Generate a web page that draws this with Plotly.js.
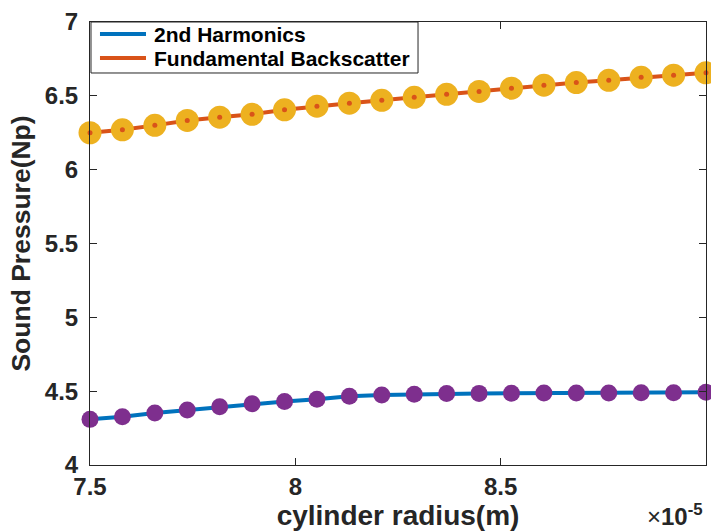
<!DOCTYPE html>
<html>
<head>
<meta charset="utf-8">
<script src="https://cdn.plot.ly/plotly-3.0.1.min.js"></script>
<style>html,body{margin:0;padding:0;background:#fff;}#chart{width:711px;height:531px;}</style>
</head>
<body>
<div id="chart"></div>
<script>
// cylinder radius in units of 1e-5 m
const radius = [7.5000, 7.5789, 7.6579, 7.7368, 7.8158, 7.8947, 7.9737, 8.0526, 8.1316, 8.2105,
                8.2895, 8.3684, 8.4474, 8.5263, 8.6053, 8.6842, 8.7632, 8.8421, 8.9211, 9.0000];
const harmonics2nd = [4.309, 4.327, 4.352, 4.372, 4.395, 4.415, 4.430, 4.445, 4.465, 4.474,
                      4.479, 4.484, 4.485, 4.486, 4.487, 4.487, 4.488, 4.489, 4.490, 4.493];
const fundamentalBackscatter = [6.250, 6.270, 6.300, 6.333, 6.355, 6.375, 6.405, 6.430, 6.450, 6.470,
                                6.490, 6.510, 6.530, 6.552, 6.572, 6.590, 6.605, 6.625, 6.640, 6.656];
const seriesNames = ['2nd Harmonics', 'Fundamental Backscatter'];
const seriesColors = ['#0072BD', '#D95319'];
const xTickVals = [7.5, 8, 8.5, 9];
const xTickText = ['7.5', '8', '8.5', '9'];
const yTickVals = [4, 4.5, 5, 5.5, 6, 6.5, 7];
const yTickText = ['4', '4.5', '5', '5.5', '6', '6.5', '7'];

const FONT = '"Liberation Sans", Arial, Helvetica, sans-serif';
const AX = '#262626';
const bold = s => '<b>' + s + '</b>';

const traces = [
  {x: radius, y: harmonics2nd, name: seriesNames[0], mode: 'lines', showlegend: false,
   line: {color: seriesColors[0], width: 4}, cliponaxis: false},
  {x: radius, y: fundamentalBackscatter, name: seriesNames[1], mode: 'lines', showlegend: false,
   line: {color: seriesColors[1], width: 4}, cliponaxis: false},
  {x: radius, y: harmonics2nd, mode: 'markers', showlegend: false, hoverinfo: 'skip',
   marker: {color: '#7E2F8E', size: 17, symbol: 'circle', line: {width: 0}}, cliponaxis: false},
  {x: radius, y: fundamentalBackscatter, mode: 'markers', showlegend: false, hoverinfo: 'skip',
   marker: {color: '#EDB120', size: 23, symbol: 'circle', line: {width: 0}}, cliponaxis: false},
  {x: radius, y: fundamentalBackscatter, mode: 'markers', showlegend: false, hoverinfo: 'skip',
   marker: {color: '#D95319', size: 5, symbol: 'circle', line: {width: 0}}, cliponaxis: false}
];

const tickFont = {family: FONT, size: 24, color: AX, weight: 700};
const axisCommon = {
  showgrid: false, zeroline: false, showline: true, linecolor: AX, linewidth: 1,
  mirror: 'ticks', ticks: 'inside', ticklen: 7, tickwidth: 1, tickcolor: AX,
  tickfont: tickFont
};

// legend drawn in paper coordinates (plot area: 616 x 443 px)
const legendRows = [0.9729, 0.9187];
const shapes = [
  {type: 'rect', xref: 'paper', yref: 'paper', x0: 0.0016, x1: 0.5325, y0: 0.8849, y1: 1,
   line: {color: AX, width: 1}, fillcolor: '#fff', layer: 'above'}
];
const annotations = [];
seriesNames.forEach((nm, i) => {
  shapes.push({type: 'line', xref: 'paper', yref: 'paper', x0: 0.0162, x1: 0.0909,
               y0: legendRows[i], y1: legendRows[i], line: {color: seriesColors[i], width: 4},
               layer: 'above'});
  annotations.push({xref: 'paper', yref: 'paper', x: 0.1, y: legendRows[i],
                    xanchor: 'left', yanchor: 'middle', showarrow: false, text: nm,
                    font: {family: FONT, size: 21, color: '#000', weight: 700}});
});
annotations.push({
  xref: 'paper', yref: 'paper', x: 0.999, y: -0.112, xanchor: 'right', yanchor: 'middle',
  showarrow: false,
  text: '×<b>10</b><sup><b>-5</b></sup>',
  font: {family: FONT, size: 24, color: AX}
});

const layout = {
  width: 711, height: 531,
  margin: {l: 90, r: 5, t: 22, b: 66},
  paper_bgcolor: '#fff', plot_bgcolor: '#fff',
  font: {family: FONT, color: AX},
  showlegend: false,
  xaxis: Object.assign({}, axisCommon, {
    range: [7.5, 9], tickvals: xTickVals, ticktext: xTickText.map(bold), ticklabelstandoff: 0,
    title: {text: 'cylinder radius(m)', standoff: 0,
            font: {family: FONT, size: 28, color: AX, weight: 700}}
  }),
  yaxis: Object.assign({}, axisCommon, {
    range: [4, 7], tickvals: yTickVals, ticktext: yTickText.map(bold), ticklabelstandoff: 6,
    title: {text: 'Sound Pressure(Np)', standoff: 6,
            font: {family: FONT, size: 26.5, color: AX, weight: 700}}
  }),
  shapes: shapes,
  annotations: annotations
};

Plotly.newPlot('chart', traces, layout, {staticPlot: true, displayModeBar: false});
</script>
</body>
</html>
